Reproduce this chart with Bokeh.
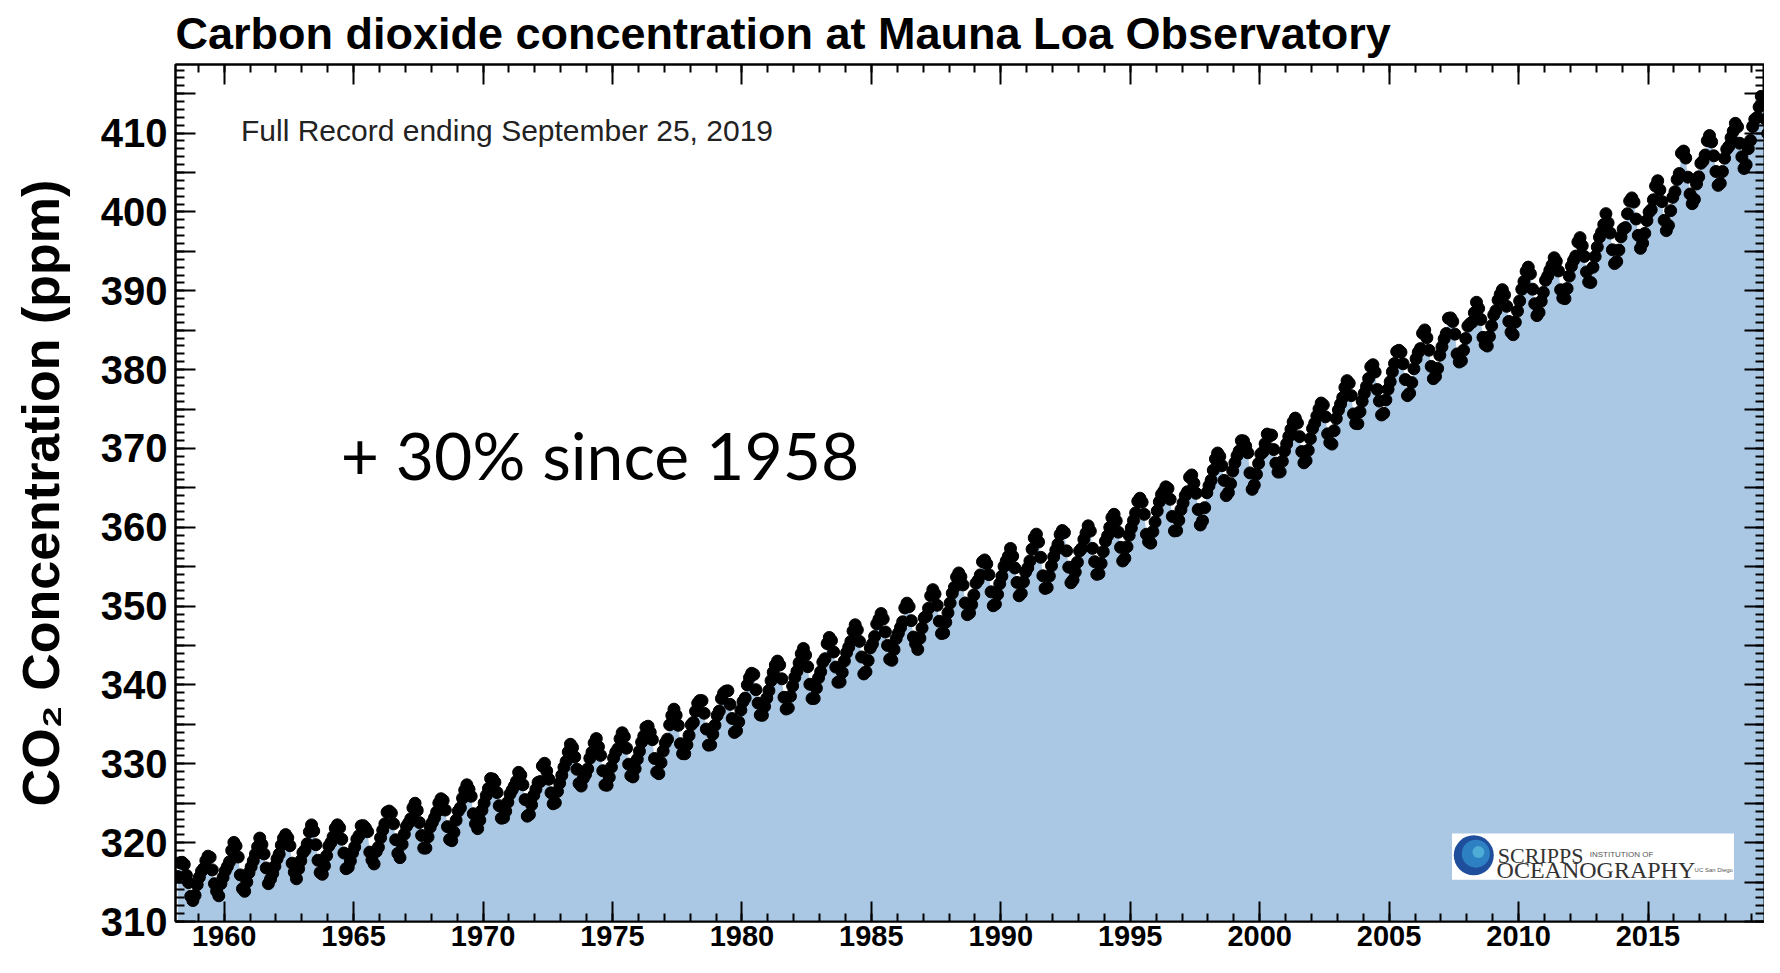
from bokeh.plotting import figure
from bokeh.models import LinearAxis, SingleIntervalTicker, Range1d, Label, ColumnDataSource
from bokeh.core.properties import value
from bokeh.embed import file_html
from bokeh.resources import INLINE

# ---------------- data (monthly mean CO2, ppm, Mauna Loa) ----------------
first_year = 1958
first_month = 3  # March 1958

co2_1958_1959 = [315.70, 317.45, 317.51, 317.24, 315.86, 314.93, 313.20, 312.66, 313.33, 314.67,
                 315.62, 316.38, 316.71, 317.72, 318.29, 318.15, 316.54, 314.80, 313.84, 313.26, 314.80, 315.58]
co2_1960s = [
    316.43, 316.97, 317.58, 319.02, 320.03, 319.59, 318.18, 315.91, 314.16, 313.83, 315.00, 316.19,
    316.93, 317.70, 318.54, 319.48, 320.58, 319.77, 318.57, 316.79, 314.80, 315.38, 316.10, 317.01,
    317.94, 318.55, 319.68, 320.57, 321.02, 320.62, 319.61, 317.40, 316.25, 315.42, 316.69, 317.70,
    318.74, 319.07, 319.86, 321.38, 322.25, 321.48, 319.74, 317.77, 316.21, 315.99, 317.07, 318.35,
    319.57, 320.01, 320.74, 321.84, 322.26, 321.89, 320.44, 318.69, 316.70, 316.87, 317.68, 318.71,
    319.44, 320.44, 320.89, 322.13, 322.16, 321.87, 321.39, 318.80, 317.81, 317.30, 318.87, 319.42,
    320.62, 321.59, 322.39, 323.87, 324.01, 323.75, 322.39, 320.37, 318.64, 318.10, 319.79, 321.08,
    322.07, 322.50, 323.04, 324.42, 325.00, 324.09, 322.55, 320.92, 319.31, 319.31, 320.72, 321.96,
    322.57, 323.15, 323.89, 325.02, 325.57, 325.36, 324.14, 322.03, 320.41, 320.25, 321.31, 322.84,
    324.00, 324.42, 325.64, 326.66, 327.34, 326.76, 325.88, 323.67, 322.38, 321.78, 322.85, 324.11]
co2_1970s = [
    325.03, 325.99, 326.87, 328.13, 328.07, 327.66, 326.35, 324.69, 323.10, 323.16, 323.98, 325.13,
    326.17, 326.68, 327.18, 327.78, 328.92, 328.57, 327.34, 325.46, 323.36, 323.57, 324.80, 326.01,
    326.77, 327.63, 327.75, 329.72, 330.07, 329.09, 328.05, 326.32, 324.93, 325.06, 326.50, 327.55,
    328.54, 329.56, 330.30, 331.50, 332.48, 332.07, 330.87, 329.31, 327.51, 327.18, 328.16, 328.64,
    329.35, 330.71, 331.48, 332.65, 333.20, 332.16, 331.07, 329.12, 327.32, 327.28, 328.30, 329.58,
    330.73, 331.46, 331.90, 333.17, 333.94, 333.45, 331.98, 329.95, 328.50, 328.34, 329.37, 330.58,
    331.59, 332.75, 333.52, 334.64, 334.77, 334.00, 333.06, 330.68, 328.95, 328.75, 330.15, 331.62,
    332.66, 333.13, 334.95, 336.13, 336.93, 336.17, 334.88, 332.56, 331.29, 331.27, 332.41, 333.60,
    334.95, 335.25, 336.66, 337.69, 338.03, 338.01, 336.41, 334.41, 332.37, 332.41, 333.75, 334.90,
    336.14, 336.69, 338.27, 338.96, 339.21, 339.26, 337.54, 335.75, 333.98, 334.19, 335.31, 336.81]
co2_1980s = [
    337.90, 338.34, 340.01, 340.93, 341.48, 341.33, 339.40, 337.70, 336.19, 336.15, 337.27, 338.32,
    339.29, 340.55, 341.61, 342.53, 343.03, 342.54, 340.78, 338.44, 336.95, 337.08, 338.58, 339.88,
    340.96, 341.73, 342.81, 343.97, 344.63, 343.79, 342.32, 340.09, 338.28, 338.29, 339.60, 340.90,
    341.68, 342.90, 343.33, 345.25, 346.03, 345.63, 344.19, 342.27, 340.35, 340.38, 341.59, 343.05,
    344.10, 344.79, 345.52, 346.84, 347.63, 346.98, 345.53, 343.55, 341.40, 341.67, 343.10, 344.70,
    345.21, 346.16, 347.74, 348.34, 349.06, 348.38, 346.72, 345.02, 343.27, 343.13, 344.49, 345.88,
    346.56, 347.28, 348.01, 349.77, 350.38, 349.93, 348.16, 346.08, 345.22, 344.51, 345.93, 347.22,
    348.52, 348.73, 349.73, 351.31, 352.09, 351.53, 350.11, 348.08, 346.52, 346.59, 347.96, 349.16,
    350.39, 351.64, 352.40, 353.69, 354.21, 353.72, 352.69, 350.40, 348.92, 349.13, 350.20, 351.41,
    352.91, 353.27, 353.96, 355.64, 355.86, 355.37, 353.99, 351.81, 350.05, 350.25, 351.49, 352.85]
co2_1990s = [
    353.80, 355.04, 355.73, 356.32, 357.32, 356.34, 354.84, 353.01, 351.31, 351.62, 353.07, 354.33,
    354.84, 355.73, 357.23, 358.66, 359.13, 358.13, 356.19, 353.85, 352.25, 352.35, 353.81, 355.12,
    356.25, 357.11, 357.86, 359.09, 359.59, 359.33, 357.01, 354.94, 352.96, 353.32, 354.32, 355.57,
    357.00, 357.31, 358.47, 359.27, 360.19, 359.52, 357.33, 355.64, 354.03, 354.12, 355.41, 356.91,
    358.24, 358.92, 359.99, 361.23, 361.65, 360.81, 359.38, 357.46, 355.73, 356.07, 357.53, 358.98,
    359.92, 360.86, 361.83, 363.30, 363.69, 363.19, 361.64, 359.12, 358.17, 357.99, 359.45, 360.68,
    362.07, 363.24, 364.17, 364.57, 365.13, 364.92, 363.55, 361.38, 359.54, 359.58, 360.89, 362.24,
    363.09, 364.03, 364.51, 366.35, 366.64, 365.59, 364.31, 362.25, 360.29, 360.82, 362.49, 364.38,
    365.26, 365.98, 367.24, 368.66, 369.42, 368.99, 367.82, 365.95, 364.02, 364.40, 365.52, 367.13,
    368.18, 369.07, 369.68, 370.99, 370.96, 370.30, 369.45, 366.90, 364.81, 365.37, 366.72, 368.10]
co2_2000s = [
    369.29, 369.54, 370.60, 371.82, 371.58, 371.70, 369.86, 368.13, 367.00, 367.03, 368.37, 369.67,
    370.59, 371.51, 372.43, 373.37, 373.85, 373.22, 371.50, 369.61, 368.18, 368.45, 369.76, 371.24,
    372.53, 373.20, 374.12, 375.02, 375.76, 375.52, 374.01, 371.85, 370.75, 370.55, 372.25, 373.79,
    374.88, 375.64, 376.45, 377.73, 378.60, 378.28, 376.70, 374.38, 373.17, 373.14, 374.66, 375.99,
    377.00, 377.87, 378.88, 380.35, 380.62, 379.69, 377.47, 376.01, 374.25, 374.46, 376.16, 377.51,
    378.46, 379.73, 380.77, 382.29, 382.45, 382.21, 380.74, 378.74, 376.70, 377.00, 378.35, 380.11,
    381.38, 382.19, 382.67, 384.61, 385.03, 384.05, 382.46, 380.41, 378.85, 379.13, 380.15, 381.82,
    382.89, 383.90, 384.58, 386.50, 386.56, 386.10, 384.50, 381.99, 380.96, 381.12, 382.45, 383.95,
    385.52, 385.82, 386.03, 387.21, 388.54, 387.76, 386.36, 384.09, 383.18, 382.99, 384.19, 385.56,
    386.94, 387.48, 388.82, 389.55, 390.14, 389.48, 388.03, 386.11, 384.74, 384.43, 386.02, 387.42]
co2_2010s = [
    388.71, 390.20, 391.17, 392.46, 393.00, 392.15, 390.20, 388.35, 386.85, 387.24, 388.67, 389.79,
    391.33, 391.86, 392.60, 393.25, 394.19, 393.74, 392.51, 390.13, 389.08, 389.00, 390.28, 391.86,
    393.12, 393.86, 394.40, 396.18, 396.74, 395.71, 394.36, 392.39, 391.11, 391.05, 392.98, 394.34,
    395.55, 396.80, 397.43, 398.41, 399.78, 398.61, 397.32, 395.20, 393.45, 393.70, 395.16, 396.84,
    397.85, 398.01, 399.77, 401.38, 401.78, 401.25, 399.10, 397.03, 395.38, 396.03, 397.28, 398.91,
    399.98, 400.28, 401.54, 403.28, 403.96, 402.80, 401.31, 398.93, 397.63, 398.29, 400.16, 401.85,
    402.56, 404.12, 404.87, 407.45, 407.72, 406.83, 404.41, 402.27, 401.05, 401.59, 403.55, 404.45,
    406.17, 406.46, 407.22, 409.04, 409.69, 408.88, 407.12, 405.13, 403.37, 403.63, 405.12, 406.81,
    407.96, 408.32, 409.41, 410.24, 411.24, 410.79, 408.71, 406.99, 405.51, 406.00, 408.02, 409.07,
    410.83, 411.75, 411.97, 413.32, 414.66, 413.92, 411.77, 409.95, 408.54]

x_ticks_years = [1960, 1965, 1970, 1975, 1980, 1985, 1990, 1995, 2000, 2005, 2010, 2015]
y_tick_labels = [310, 320, 330, 340, 350, 360, 370, 380, 390, 400, 410]

title_text = "Carbon dioxide concentration at Mauna Loa Observatory"
y_label = "CO\u2082 Concentration (ppm)"
note_text = "Full Record ending September 25, 2019"
big_text = "+ 30% since 1958"

# ---------------- build ----------------
co2 = co2_1958_1959 + co2_1960s + co2_1970s + co2_1980s + co2_1990s + co2_2000s + co2_2010s
dates = [first_year + (first_month - 0.5) / 12.0 + i / 12.0 for i in range(len(co2))]
src = ColumnDataSource(dict(x=dates, y=co2))

FONT = "Liberation Sans"
y_start = 310

p = figure(width=1764, height=957,
           x_range=Range1d(1958.12, 2019.5), y_range=Range1d(y_start, 418.7),
           output_backend="svg", toolbar_location=None,
           x_axis_location=None, y_axis_location=None)

p.min_border_left = 175
p.min_border_right = 0
p.min_border_top = 0
p.min_border_bottom = 36
p.outline_line_color = "black"
p.outline_line_width = 2
p.background_fill_color = "white"
for g in p.grid:
    g.visible = False

p.title.text = title_text
p.title.text_font = FONT
p.title.text_font_size = "45px"
p.title.text_font_style = "bold"
p.title.text_color = "black"
p.title.align = "left"
p.title.offset = 0
p.title.standoff = 11

xt = SingleIntervalTicker(interval=5, num_minor_ticks=5)
yt = SingleIntervalTicker(interval=5, num_minor_ticks=5)

def style_axis(ax, major_in, minor_in):
    ax.major_tick_in = major_in
    ax.major_tick_out = 0
    ax.minor_tick_in = minor_in
    ax.minor_tick_out = 0
    ax.major_tick_line_width = 2
    ax.minor_tick_line_width = 2
    ax.major_tick_line_color = "black"
    ax.minor_tick_line_color = "black"
    ax.axis_line_width = 2
    ax.axis_line_color = "black"

def hide_labels(ax):
    ax.major_label_text_font_size = "0px"
    ax.major_label_text_color = None
    ax.major_label_text_alpha = 0
    ax.major_label_standoff = 0

bottom = LinearAxis(ticker=xt)
style_axis(bottom, 20, 8)
bottom.major_label_text_font = FONT
bottom.major_label_text_font_style = "bold"
bottom.major_label_text_font_size = "29px"
bottom.major_label_text_color = "black"
bottom.major_label_standoff = 4
p.add_layout(bottom, "below")

left = LinearAxis(ticker=yt)
style_axis(left, 20, 9)
left.major_label_overrides = {v: "" for v in range(315, 420, 10)}
left.major_label_text_font = FONT
left.major_label_text_font_style = "bold"
left.major_label_text_font_size = "40px"
left.major_label_text_color = "black"
left.major_label_standoff = 8
left.axis_label = y_label
left.axis_label_text_font = FONT
left.axis_label_text_font_style = "bold"
left.axis_label_text_font_size = "52px"
left.axis_label_text_color = "black"
left.axis_label_standoff = 28
p.add_layout(left, "left")

top = LinearAxis(ticker=xt)
style_axis(top, 20, 8)
hide_labels(top)
p.add_layout(top, "above")

right = LinearAxis(ticker=yt)
style_axis(right, 20, 9)
hide_labels(right)
p.add_layout(right, "right")

# filled area + points
p.varea(x="x", y1=y_start, y2="y", source=src, fill_color="#aac8e4", fill_alpha=1.0)
p.scatter(x="x", y="y", source=src, size=12, fill_color="black", line_color="black")

# annotations
p.add_layout(Label(x=1960.65, y=410.3, text=note_text, text_font=FONT,
                   text_font_size="30px", text_color="#222222", text_baseline="alphabetic"))
p.add_layout(Label(x=1964.5, y=369.2, text=big_text, text_font="Lato",
                   text_font_size="66px", text_color="black", text_baseline="alphabetic"))

# logo box (Scripps)
p.quad(left=[2007.43], right=[2018.32], bottom=[315.3], top=[321.15],
       fill_color="white", line_color=None)
p.scatter(x=[2008.27], y=[318.4], size=40, marker="circle",
          fill_color="#1f4f9c", line_color=None)
p.scatter(x=[2008.35], y=[318.6], size=28, marker="circle",
          fill_color="#2f86c8", line_color=None, fill_alpha=0.9)
p.scatter(x=[2008.45], y=[318.8], size=12, marker="circle",
          fill_color="#5cc0e0", line_color=None, fill_alpha=0.7)
p.text(x=[2009.2], y=[318.4], text=["SCRIPPS"], text_font=value("Liberation Serif"),
       text_font_size="22px", text_color="#333333", text_baseline="alphabetic")
p.text(x=[2012.75], y=[318.45], text=["INSTITUTION OF"], text_font=value("Liberation Sans"),
       text_font_size="8px", text_color="#555555", text_baseline="alphabetic")
p.text(x=[2009.15], y=[316.5], text=["OCEANOGRAPHY"], text_font=value("Liberation Serif"),
       text_font_size="24px", text_color="#333333", text_baseline="alphabetic")
p.text(x=[2016.8], y=[316.55], text=["UC San Diego"], text_font=value("Liberation Sans"),
       text_font_size="6px", text_color="#555555", text_baseline="alphabetic")

open("out.html", "w").write(file_html(p, INLINE))
